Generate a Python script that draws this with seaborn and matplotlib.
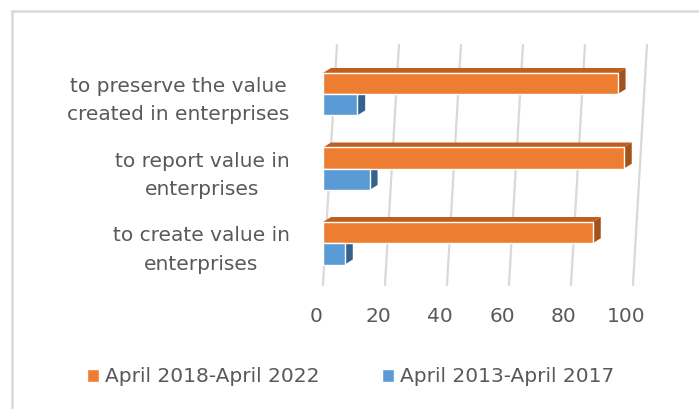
import matplotlib
matplotlib.use("Agg")
import matplotlib.pyplot as plt
import matplotlib.transforms as mtransforms
from matplotlib.lines import Line2D
from matplotlib.patches import Polygon
import pandas as pd
import seaborn as sns

# chart data
categories = [
    "to preserve the value\ncreated in enterprises",
    "to report value in\nenterprises",
    "to create value in\nenterprises",
]
series_names = ["April 2018-April 2022", "April 2013-April 2017"]
values_2018_2022 = [95, 97, 87]
values_2013_2017 = [11, 15, 7]
x_ticks = [0, 20, 40, 60, 80, 100]

colors = {"April 2018-April 2022": "#ED7D31", "April 2013-April 2017": "#5B9BD5"}
top_colors = {"April 2018-April 2022": "#BF5E1F", "April 2013-April 2017": "#41719C"}
side_colors = {"April 2018-April 2022": "#A4521B", "April 2013-April 2017": "#35628C"}
text_color = "#595959"

df = pd.DataFrame({
    "category": categories * 2,
    "period": [series_names[0]] * 3 + [series_names[1]] * 3,
    "value": values_2018_2022 + values_2013_2017,
})

sns.set_style("white")
plt.rcParams["font.family"] = ["DejaVu Sans"]
fs = 14.5

fig = plt.figure(figsize=(6.99, 4.09), dpi=100)
W, H = 699, 409
ax = fig.add_axes([323 / W, (H - 285) / H, 310 / W, 240 / H])

sns.barplot(data=df, x="value", y="category", hue="period", hue_order=series_names,
            order=categories, palette=colors, width=0.57, orient="h",
            saturation=1, ax=ax, legend=True)

ax.set_xlim(0, 100)
ax.set_ylim(2.56, -0.66)
ax.set_xlabel("")
ax.set_ylabel("")
for s in ax.spines.values():
    s.set_visible(False)

# slanted "3D" gridlines
slant = 4.5
for v in x_ticks:
    ax.plot([v, v + slant], [2.56, -0.66], color="#D9D9D9", lw=1.6,
            zorder=0.3, clip_on=False)

# depth faces of the bars
dx, dy = 2.6, 0.067
for patch, period in zip(ax.patches, [series_names[0]] * 3 + [series_names[1]] * 3):
    x0, y0 = patch.get_x(), patch.get_y()
    w, h = patch.get_width(), patch.get_height()
    x1 = x0 + w
    ytop, ybot = min(y0, y0 + h), max(y0, y0 + h)
    top = Polygon([(x0, ytop), (x0 + dx, ytop - dy), (x1 + dx, ytop - dy), (x1, ytop)],
                  closed=True, facecolor=top_colors[period], edgecolor="none",
                  zorder=0.8, clip_on=False)
    side = Polygon([(x1, ytop), (x1 + dx, ytop - dy), (x1 + dx, ybot - dy), (x1, ybot)],
                   closed=True, facecolor=side_colors[period], edgecolor="none",
                   zorder=0.8, clip_on=False)
    ax.add_patch(top)
    ax.add_patch(side)

ax.set_xticks(x_ticks)
ax.set_xticklabels([str(t) for t in x_ticks])
ax.tick_params(axis="x", length=0, pad=16, labelsize=fs, labelcolor=text_color)
ax.tick_params(axis="y", length=0, pad=24, labelsize=fs, labelcolor=text_color)
shift_x = mtransforms.ScaledTranslation(-7 / 100, 0, fig.dpi_scale_trans)
for lab in ax.get_xticklabels():
    lab.set_transform(lab.get_transform() + shift_x)
for lab in ax.get_yticklabels():
    lab.set_multialignment("center")
    lab.set_linespacing(1.62)

handles, labels = ax.get_legend_handles_labels()
ax.get_legend().remove()
fig.legend(handles, labels, loc="center left", bbox_to_anchor=(69 / W, 1 - 377 / H),
           ncol=2, frameon=False, fontsize=fs, labelcolor=text_color,
           handlelength=0.6, handleheight=0.6, handletextpad=0.3, columnspacing=3.1)

# chart frame (left and top edges visible)
fig.add_artist(Line2D([12 / W, 12 / W], [0, 1 - 11 / H], color="#D9D9D9", lw=1.8,
                      transform=fig.transFigure))
fig.add_artist(Line2D([12 / W, 1], [1 - 11 / H, 1 - 11 / H], color="#D9D9D9", lw=1.8,
                      transform=fig.transFigure))

fig.savefig("out.png", dpi=100)
